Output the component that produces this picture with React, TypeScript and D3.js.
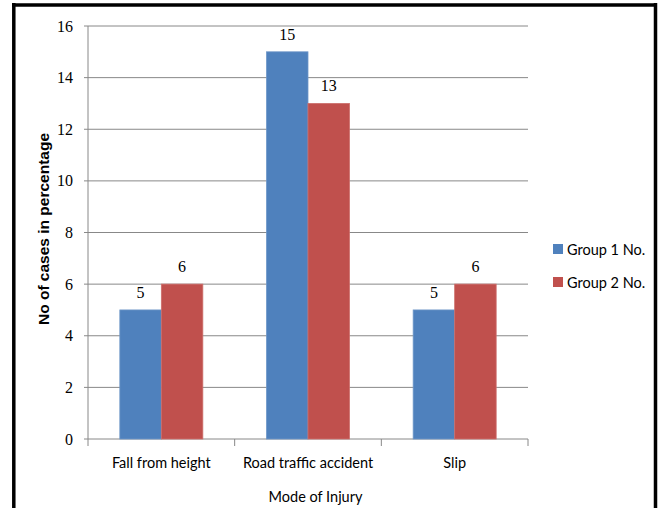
import React from "react";
import * as d3 from "d3";

// Injury categories and the two groups compared
const categories = ["Fall from height", "Road traffic accident", "Slip"];
const groups = ["Group 1 No.", "Group 2 No."];
const group1Values = [5, 15, 5];
const group2Values = [6, 13, 6];
const yTicks = [0, 2, 4, 6, 8, 10, 12, 14, 16];

const colors = ["#4F81BD", "#C0504D"];
const strokeColors = ["#6F97C8", "#CD6E6B"];
const gridColor = "#888888";

const W = 662;
const H = 508;
const plot = { left: 88, right: 528, top: 26, bottom: 439 };

export default function App() {
  const x0 = d3.scaleBand<string>().domain(categories).range([plot.left, plot.right]).padding(0);
  const x1 = d3
    .scaleBand<string>()
    .domain(groups)
    .range([0, x0.bandwidth()])
    .paddingInner(0)
    .paddingOuter(0.767);
  const y = d3.scaleLinear().domain([0, 16]).range([plot.bottom, plot.top]);

  const series = [group1Values, group2Values];
  const catEdges = [...categories.map((c) => x0(c) as number), plot.right];

  const sansFont = "Lato, 'Open Sans', sans-serif";
  const serifFont = "'Liberation Serif', serif";

  return (
    <svg
      width={W}
      height={H}
      style={{ position: "absolute", left: 0, top: 0, background: "#fff" }}
    >
      <rect x={0} y={0} width={W} height={H} fill="#fff" />

      {/* frame */}
      <line x1={13.8} x2={13.8} y1={3} y2={H} stroke="#000" strokeWidth={3.5} />
      <line x1={12} x2={657} y1={5} y2={5} stroke="#000" strokeWidth={3.5} />
      <line x1={655.5} x2={655.5} y1={3} y2={H} stroke="#000" strokeWidth={3.5} />

      {/* gridlines and y ticks */}
      {yTicks.map((t) => (
        <g key={t}>
          <line
            x1={plot.left - 4}
            x2={plot.right}
            y1={y(t)}
            y2={y(t)}
            stroke={gridColor}
            strokeWidth={1}
          />
          <text
            x={73}
            y={y(t)}
            dy="0.35em"
            textAnchor="end"
            fontFamily={serifFont}
            fontSize={16}
            fill="#000"
          >
            {t}
          </text>
        </g>
      ))}

      {/* y axis line */}
      <line x1={plot.left} x2={plot.left} y1={plot.top} y2={plot.bottom} stroke={gridColor} />

      {/* category ticks */}
      {catEdges.map((e, i) => (
        <line key={i} x1={e} x2={e} y1={plot.bottom} y2={plot.bottom + 7} stroke={gridColor} />
      ))}

      {/* bars with value labels */}
      {categories.map((c, ci) => (
        <g key={c} transform={`translate(${x0(c)},0)`}>
          {groups.map((g, gi) => {
            const v = series[gi][ci];
            const bx = x1(g) as number;
            return (
              <g key={g}>
                <rect
                  x={bx}
                  y={y(v)}
                  width={x1.bandwidth()}
                  height={plot.bottom - y(v)}
                  fill={colors[gi]}
                  stroke={strokeColors[gi]}
                  strokeWidth={0.8}
                />
                <text
                  x={bx + x1.bandwidth() / 2}
                  y={y(v) - 12}
                  textAnchor="middle"
                  fontFamily={serifFont}
                  fontSize={16}
                  fill="#000"
                >
                  {v}
                </text>
              </g>
            );
          })}
        </g>
      ))}

      {/* category labels */}
      {categories.map((c) => (
        <text
          key={c}
          x={(x0(c) as number) + x0.bandwidth() / 2}
          y={468}
          textAnchor="middle"
          fontFamily={sansFont}
          fontSize={14.5}
          fill="#000"
        >
          {c}
        </text>
      ))}

      {/* axis titles */}
      <text
        x={315.5}
        y={502}
        textAnchor="middle"
        fontFamily={sansFont}
        fontSize={14.5}
        fill="#000"
      >
        Mode of Injury
      </text>
      <text
        transform={`translate(49,229) rotate(-90)`}
        textAnchor="middle"
        fontFamily="'Liberation Sans', Arial, sans-serif"
        fontWeight="bold"
        fontSize={15.5}
        fill="#000"
      >
        No of cases in percentage
      </text>

      {/* legend */}
      {groups.map((g, i) => (
        <g key={g} transform={`translate(553,${244 + i * 33})`}>
          <rect x={0} y={0} width={10} height={10} fill={colors[i]} />
          <text x={14} y={10.5} fontFamily={sansFont} fontSize={14.5} fill="#000">
            {g}
          </text>
        </g>
      ))}
    </svg>
  );
}
